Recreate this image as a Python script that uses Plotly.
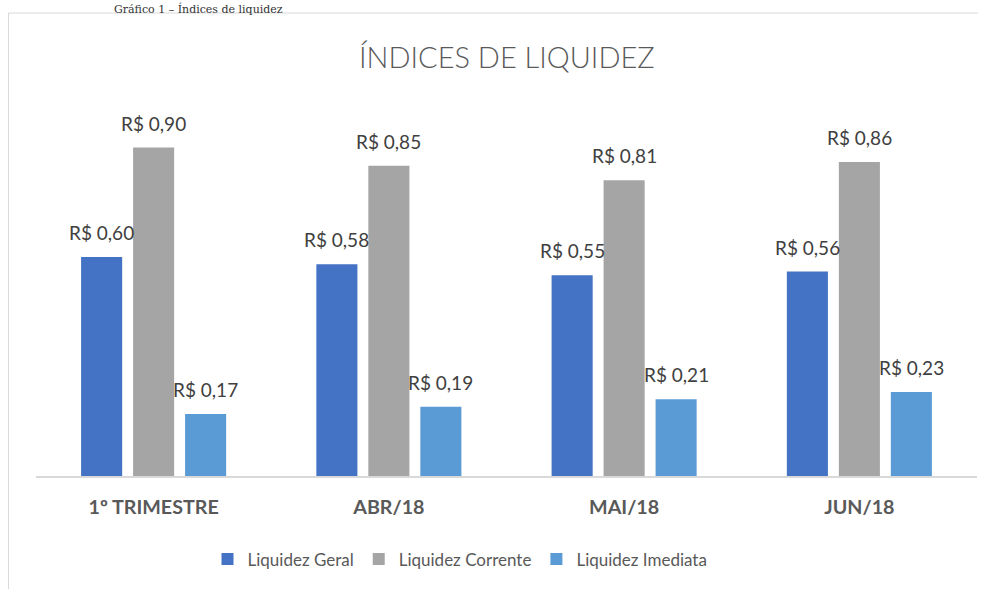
import plotly.graph_objects as go

categories = ["1º TRIMESTRE", "ABR/18", "MAI/18", "JUN/18"]
series_names = ["Liquidez Geral", "Liquidez Corrente", "Liquidez Imediata"]
liquidez_geral = [0.60, 0.58, 0.55, 0.56]
liquidez_corrente = [0.90, 0.85, 0.81, 0.86]
liquidez_imediata = [0.17, 0.19, 0.21, 0.23]
colors = ["#4472C4", "#A5A5A5", "#5B9BD5"]
title_text = "ÍNDICES DE LIQUIDEZ"
caption_text = "Gráfico 1 – Índices de liquidez"

W, H = 989, 589
ml, mr, mt, mb = 36, 12, 111, 111
bargap, bargroupgap = 0.337, 0.21

series = [liquidez_geral, liquidez_corrente, liquidez_imediata]

fig = go.Figure()
for name, vals, col in zip(series_names, series, colors):
    fig.add_trace(go.Bar(name=name, x=categories, y=vals, marker=dict(color=col, line=dict(width=0))))

plot_w = W - ml - mr
plot_h = H - mt - mb
cat_w = plot_w / len(categories)
slot = (1 - bargap) * cat_w / 3

def fmt(v):
    return "R$ " + f"{v:.2f}".replace(".", ",")

annotations = []
for si, vals in enumerate(series):
    for ci, v in enumerate(vals):
        annotations.append(dict(
            x=categories[ci], y=v, xref="x", yref="y",
            text=fmt(v), showarrow=False, xanchor="center", yanchor="bottom",
            xshift=(si - 1) * slot, yshift=11,
            font=dict(family="Lato", size=19, color="#404040")))

def px_to_paper_x(px):
    return (px - ml) / plot_w

def px_to_paper_y(py):
    return (H - mb - py) / plot_h

annotations.append(dict(
    x=px_to_paper_x(507), y=px_to_paper_y(56), xref="paper", yref="paper",
    text=title_text, showarrow=False, xanchor="center", yanchor="middle",
    font=dict(family="Lato", size=29, color="#595959", weight=300)))

annotations.append(dict(
    x=px_to_paper_x(284), y=px_to_paper_y(0), xref="paper", yref="paper",
    text=caption_text, showarrow=False, xanchor="right", yanchor="top",
    borderpad=0,
    font=dict(family="DejaVu Serif", size=11, color="#333333")))

shapes = [
    dict(type="line", xref="paper", yref="paper",
         x0=px_to_paper_x(8.5), x1=px_to_paper_x(978), y0=px_to_paper_y(12.5), y1=px_to_paper_y(12.5),
         line=dict(color="#D9D9D9", width=1)),
    dict(type="line", xref="paper", yref="paper",
         x0=px_to_paper_x(8.5), x1=px_to_paper_x(8.5), y0=px_to_paper_y(12.5), y1=px_to_paper_y(600),
         line=dict(color="#D9D9D9", width=1)),
]

fig.update_layout(
    width=W, height=H,
    margin=dict(l=ml, r=mr, t=mt, b=mb),
    paper_bgcolor="white", plot_bgcolor="white",
    barmode="group", bargap=bargap, bargroupgap=bargroupgap,
    showlegend=True,
    legend=dict(orientation="h", x=px_to_paper_x(460), xanchor="center",
                y=px_to_paper_y(562), yanchor="middle",
                font=dict(family="Lato", size=17, color="#595959"),
                bgcolor="rgba(0,0,0,0)"),
    annotations=annotations,
    shapes=shapes,
    xaxis=dict(showline=True, linecolor="#D9D9D9", linewidth=1.5, ticks="",
               showgrid=False, zeroline=False,
               tickfont=dict(family="Lato", size=19.7, color="#595959", weight="bold"),
               ticklabelstandoff=13),
    yaxis=dict(range=[0, 1.0], visible=False, showgrid=False, zeroline=False),
)

fig.write_html("out.html", config={"displayModeBar": False},
               post_script="document.body.style.margin='0px';")
